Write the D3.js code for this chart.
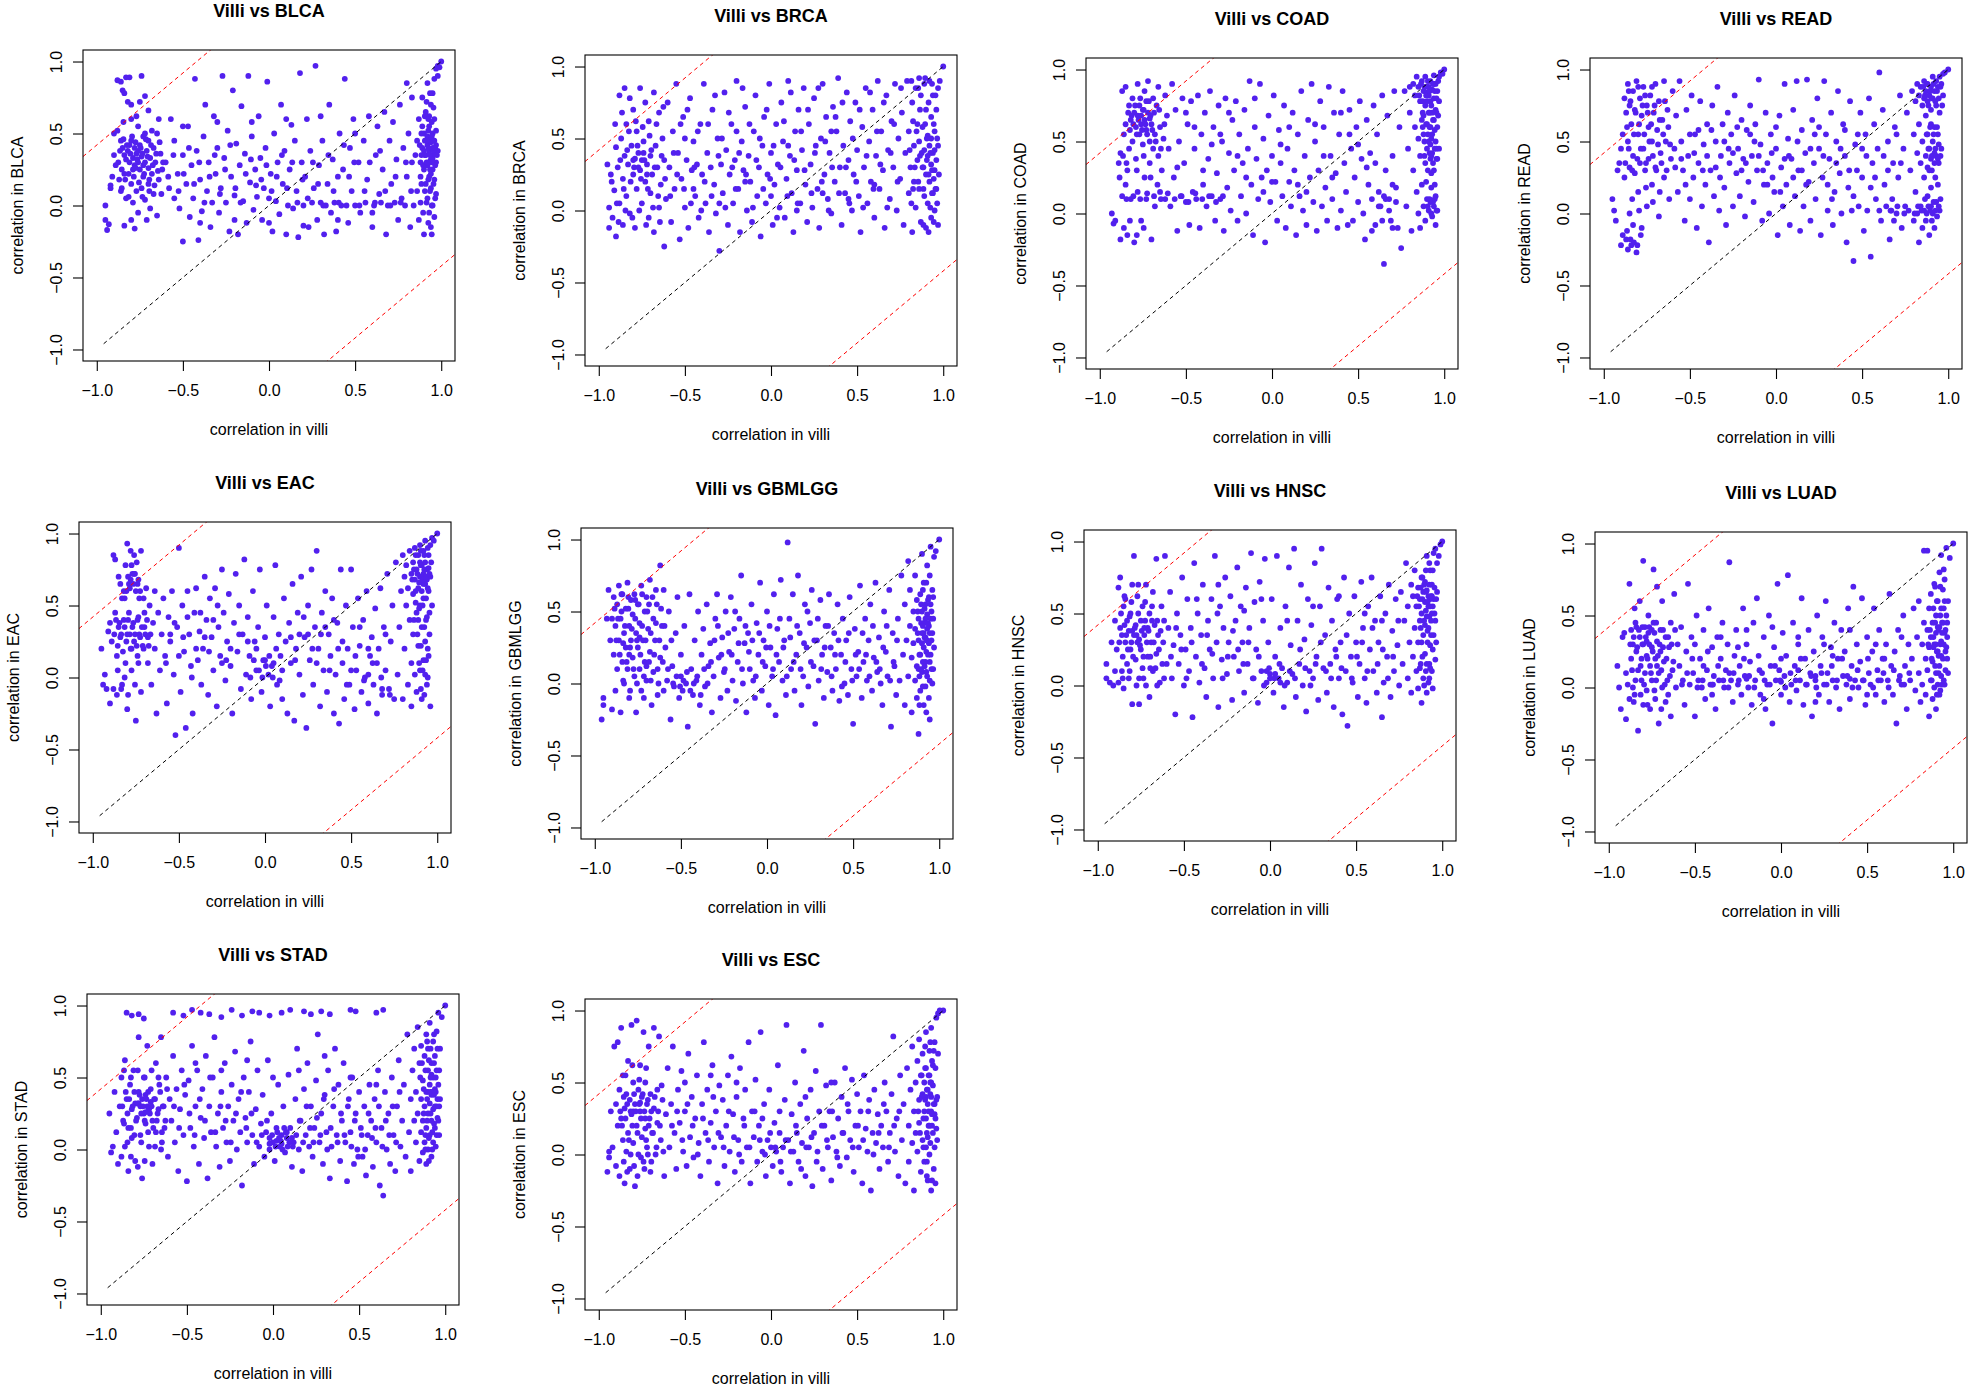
<!DOCTYPE html>
<html>
<head>
<meta charset="utf-8">
<title>Villi vs tumour correlation</title>
<script src="https://d3js.org/d3.v7.min.js"></script>
<style>
  body { margin: 0; background: #fff; }
  svg text { font-family: "Liberation Sans", Arial, Helvetica, sans-serif; fill: #000; }
  .panel-title { font-size: 18px; font-weight: bold; text-anchor: middle; }
  .axis-title { font-size: 16px; text-anchor: middle; }
  .axis text { font-size: 16px; }
  .axis line { stroke: #000; stroke-width: 1.1; }
  .frame { fill: none; stroke: #000; stroke-width: 1.1; }
  .dot { fill: #5220ee; }
</style>
</head>
<body>
<svg id="chart" width="1969" height="1388"></svg>
<script>
// tumour types, one panel each (row by row)
const tumourNames = ["BLCA", "BRCA", "COAD", "READ", "EAC", "GBMLGG", "HNSC", "LUAD", "STAD", "ESC"];
const tickValues = [-1, -0.5, 0, 0.5, 1];
const tickLabels = ["\u22121.0", "\u22120.5", "0.0", "0.5", "1.0"];
const diagStart = -0.96;       // y = x reference segment
const thresholdOffset = 1.42;  // red lines y = x +/- offset

// [correlation in villi, correlation in tumour]
const blcaPoints = [[-.95,0],[-.95,-.1],[-.94,-.17],[-.93,-.13],[-.92,.12],[-.91,.2],[-.9,.35],[-.9,.5],[-.92,.14],[-.89,.28],
[-.88,.87],[-.86,.86],[-.83,.89],[-.81,.89],[-.74,.9],[-.85,.8],[-.84,.78],[-.82,.72],[-.8,.7],[-.77,.62],[-.75,.72],[-.72,.76],[-.7,.66],
[-.88,.52],[-.86,.45],[-.85,.4],[-.84,.35],[-.83,.32],[-.82,.38],[-.81,.3],[-.8,.45],[-.79,.33],[-.78,.28],[-.78,.4],[-.77,.36],[-.76,.3],
[-.75,.42],[-.75,.25],[-.74,.34],[-.73,.48],[-.73,.2],[-.72,.3],[-.71,.38],[-.7,.26],[-.7,.45],[-.69,.33],[-.68,.22],[-.67,.4],[-.66,.3],
[-.65,.5],[-.64,.18],[-.63,.36],[-.62,.25],[-.87,.18],[-.86,.1],[-.84,.22],[-.83,.05],[-.8,.15],[-.79,.02],[-.77,.1],[-.76,-.05],[-.74,.12],
[-.72,.04],[-.7,.15],[-.69,-.02],[-.67,.08],[-.65,-.07],[-.84,-.14],[-.8,-.1],[-.78,-.16],[-.71,-.1],[-.81,.42],[-.76,.38],[-.79,.25],[-.73,.28],
[-.6,.3],[-.58,.12],[-.57,.6],[-.55,.45],[-.55,.05],[-.53,.22],[-.52,-.02],[-.5,.35],[-.5,-.25],[-.48,.15],[-.47,.55],[-.46,-.08],[-.45,.28],
[-.44,.05],[-.43,.88],[-.42,.38],[-.41,-.24],[-.4,.18],[-.39,-.04],[-.38,.48],[-.37,.7],[-.36,.1],[-.35,.3],[-.34,-.15],[-.33,.02],[-.32,.62],
[-.31,.22],[-.3,.4],[-.29,-.05],[-.28,.12],[-.27,.9],[-.26,.33],[-.25,.02],[-.24,.52],[-.23,-.18],[-.22,.2],[-.21,.8],[-.2,.07],[-.19,.43],
[-.18,-.2],[-.17,.28],[-.16,.69],[-.15,.03],[-.14,.36],[-.13,-.12],[-.12,.9],[-.11,.16],[-.1,.48],[-.09,-.03],[-.08,.25],[-.07,.06],[-.06,.62],
[-.05,.33],[-.04,-.1],[-.03,.12],[-.02,.4],[-.01,.86],[0,.05],[.01,.22],[.02,-.18],[.03,.5],[.04,.03],[.05,.3],[.06,-.06],[.07,.7],[.08,.15],
[.09,.38],[.1,-.2],[.11,0],[.12,.25],[.13,.56],[.14,-.02],[.15,.45],[.16,.1],[.17,-.22],[.18,.92],[.19,.3],[.2,0],[.21,.2],[.22,.6],[.23,-.15],
[.24,.38],[.25,.02],[.26,.12],[.27,.97],[.28,-.1],[.29,.28],[.3,.02],[.31,.45],[.32,-.2],[.33,0],[.34,.15],[.35,.7],[.36,-.05],[.37,.32],
[.38,.02],[.39,-.18],[.4,.2],[.41,.5],[.42,0],[.43,.25],[.44,.88],[.45,0],[.46,-.12],[.47,.4],[.48,.1],[.49,.6],[.5,0],
[.52,.3],[.53,-.05],[.55,.45],[.56,.02],[.57,.18],[.58,.62],[.6,-.15],[.61,0],[.62,.35],[.63,.55],[.64,.08],[.65,.02],[.66,.25],[.67,.65],
[.68,-.2],[.69,0],[.7,.45],[.71,.15],[.72,.58],[.73,.02],[.74,.32],[.75,-.1],[.76,.7],[.77,.05],[.78,.4],[.79,0],[.8,.2],[.8,.85],[.81,.5],
[.82,-.15],[.83,.3],[.83,.75],[.84,0],
[.85,.35],[.86,.1],[.86,.45],[.87,.6],[.87,-.1],[.88,.3],[.88,.02],[.89,.4],[.89,.75],[.9,.25],[.9,.5],[.9,-.2],[.91,.35],[.91,.15],[.91,.65],
[.92,.42],[.92,.28],[.92,.05],[.92,.85],[.93,.38],[.93,.2],[.93,.55],[.93,-.05],[.94,.44],[.94,.32],[.94,.12],[.94,.7],[.94,-.15],[.95,.4],
[.95,.25],[.95,.5],[.95,0],[.95,.78],[.96,.36],[.96,.45],[.96,.18],[.96,.6],[.96,.88],[.97,.3],[.97,.42],[.97,.08],[.97,.95],[.98,.38],[.98,.9],
[.98,.97],[.99,.96],[1,1],[.93,.62],[.92,.48],[.95,.33],[.97,.52],[.9,.38],[.89,.55],[.88,.2],[.96,-.08],[.94,.22]];
const blcaDense = [[-.875,.3],[-.865,.38],[-.855,.25],[-.845,.46],[-.835,.18],[-.825,.42],[-.815,.22],[-.805,.36],[-.795,.48],[-.785,.2],
[-.775,.44],[-.765,.32],[-.755,.16],[-.745,.4],[-.735,.36],[-.725,.22],[-.715,.46],[-.705,.34],[-.695,.18],[-.685,.42],[-.675,.28],[-.665,.14],
[-.655,.36],[-.645,.24],[-.635,.44],[-.625,.08],[-.615,.3],[-.855,.12],[-.815,.06],[-.775,.26],[-.735,.06],[-.695,.1],[-.845,.58],[-.8,.6],
[-.76,.55],[-.72,.5],[-.68,.52],[-.64,.6],
[-.585,.2],[-.555,.35],[-.525,.1],[-.495,.22],[-.465,.4],[-.435,.15],[-.405,.3],[-.375,.02],[-.345,.2],[-.315,.35],[-.285,.08],[-.255,.25],
[-.225,.42],[-.195,.12],[-.165,.02],[-.135,.22],[-.105,.32],[-.075,.14],[-.045,.18],[-.015,.28],[.015,.1],[.045,.2],[.075,.35],[.105,.12],
[.135,.3],[.165,.02],[.195,.18],[.225,.05],[.255,.3],[.285,.15],[.315,0],[.345,.35],[.375,.1],[.405,.02],[.435,.42],[.465,.2],[.495,.3],
[.525,0],[.555,.1],[.585,.3],[.615,.02],[.645,.38],[.675,.1],[.705,0],[.735,.2],[.765,.02],[.795,.3],[.825,.1],[-.5,.55],[-.3,.58],[-.1,.58],
[.1,.6],[.3,.62],[.5,.5],[-.4,-.12],[-.2,-.1],[0,-.12],[.2,-.14],[.4,-.1],[.6,-.05],
[.875,.42],[.885,.5],[.895,.28],[.905,.45],[.915,.3],[.925,.52],[.935,.35],[.945,.48],[.955,.38],[.965,.28],[.905,.62],[.915,.72],[.925,.6],
[.935,.78],[.945,.58],[.955,.68],[.905,.1],[.915,.02],[.925,.18],[.935,.1],[.945,0],[.955,.15],[.965,.05],[.885,.15],[.895,-.05],[.925,-.12],
[.945,-.2],[.905,.35],[.925,.4],[.935,.45],[.945,.3],[.955,.45],[.965,.4],[.975,.35],[.915,.45],[.925,.3],[.935,.25],[.885,.35]];

const brcaPoints = [[-.95,.32],[-.94,.02],[-.94,-.12],[-.93,.25],[-.92,-.05],[-.91,.14],[-.9,.44],[-.9,-.18],[-.89,.3],[-.88,.8],[-.88,.05],
[-.87,.5],[-.86,.22],[-.86,-.1],[-.85,.85],[-.85,.38],[-.84,.6],[-.84,.1],[-.83,.32],[-.82,.78],[-.82,-.02],[-.81,.45],[-.8,.25],[-.8,.7],
[-.79,.36],[-.79,-.12],[-.78,.15],[-.78,.55],[-.77,.4],[-.76,.28],[-.76,.85],[-.75,.05],[-.75,.35],[-.74,.48],[-.73,.2],[-.73,.75],[-.72,.32],
[-.71,-.05],[-.71,.62],[-.7,.38],[-.7,.12],[-.69,.25],[-.68,.82],[-.68,-.15],[-.67,.45],[-.66,.3],[-.65,.02],[-.65,.68],[-.64,.18],[-.63,.5],
[-.62,-.25],[-.62,.35],[-.61,.08],[-.6,.75],[-.77,.3],[-.74,.4],[-.72,.25],[-.8,.35],
[-.59,.3],[-.58,-.08],[-.57,.55],[-.56,.15],[-.55,.88],[-.54,.4],[-.53,-.2],[-.52,.22],[-.51,.65],[-.5,.02],[-.49,.35],[-.48,-.12],[-.47,.78],
[-.46,.28],[-.45,.48],[-.44,.1],[-.43,.32],[-.42,-.05],[-.41,.6],[-.4,.25],[-.39,.88],[-.38,.05],[-.37,.4],[-.36,-.15],[-.35,.3],[-.34,.7],
[-.33,.18],[-.32,-.02],[-.31,.5],[-.3,-.28],[-.29,.32],[-.28,.12],[-.27,.82],[-.26,.42],[-.25,-.1],[-.24,.25],[-.23,.6],[-.22,.05],[-.21,.35],
[-.2,.9],[-.19,.15],[-.18,-.15],[-.17,.48],[-.16,.28],[-.15,.72],[-.14,0],[-.13,.38],[-.12,.2],[-.11,-.08],[-.1,.55],[-.09,.8],[-.08,.1],
[-.07,.3],[-.06,-.18],[-.05,.45],[-.04,.65],[-.03,.05],[-.02,.25],[-.01,.88],[0,.4],[.01,-.1],[.02,.18],[.03,.6],[.04,.32],[.05,.02],[.06,.75],
[.07,.48],[.08,-.05],[.09,.22],[.1,.9],[.11,.38],[.12,.12],[.13,-.15],[.14,.55],[.15,.28],[.16,.7],[.17,.05],[.18,.42],[.19,.85],[.2,.18],
[.21,-.08],[.22,.6],[.23,.32],[.24,.02],[.25,.78],[.26,.45],[.27,.15],[.28,-.12],[.29,.5],[.3,.88],[.31,.25],[.32,.65],[.33,.08],[.34,.4],
[.35,-.02],[.36,.72],[.37,.2],[.38,.55],[.39,.92],[.4,.3],[.41,-.1],[.42,.45],[.43,.12],[.44,.82],[.45,.35],[.46,.62],[.47,0],[.48,.25],
[.49,.75],[.5,.42],[.51,.1],[.52,-.15],[.53,.58],[.54,.3],[.55,.85],[.56,.05],[.57,.48],[.58,.2],[.59,.7],[.6,-.05],[.61,.38],[.62,.9],
[.63,.15],[.64,.55],[.65,.28],[.66,-.12],[.67,.8],[.68,.42],[.69,.08],[.7,.62],[.71,.3],[.72,.88],[.73,0],[.74,.5],[.75,.22],
[-.45,.15],[-.3,.05],[-.15,.2],[0,.1],[.15,0],[.3,.12],[.45,.08],[.6,.18],[-.5,.5],[-.2,.55],[.1,.45],[.35,.55],
[.76,.68],[.77,-.1],[.78,.4],[.79,.9],[.8,.12],[.8,.55],[.81,.3],[.82,.75],[.82,-.15],[.83,.45],[.83,.2],[.84,.85],[.84,.02],[.85,.35],[.85,.6],
[.86,.15],[.86,.48],[.87,.8],[.87,-.08],[.88,.3],[.88,.58],[.89,.1],[.89,.42],[.9,.7],[.9,.25],[.9,-.12],[.91,.38],[.91,.52],[.91,.05],[.92,.9],
[.92,.2],[.92,.45],[.93,.65],[.93,.32],[.93,-.05],[.94,.12],[.94,.4],[.94,.8],[.95,.28],[.95,.55],[.95,0],[.96,.35],[.96,.7],[.96,.15],[.97,.85],
[.97,.45],[.97,-.1],[.98,.9],[1,1],[.89,.88],[.86,.92],[.93,.5],[.95,.42]];
const brcaDense = [[-.925,.2],[-.895,.05],[-.875,.35],[-.855,.15],[-.835,.42],[-.815,.2],[-.795,.3],[-.775,.45],[-.755,.22],[-.735,.35],
[-.715,.15],[-.695,.42],[-.675,.3],[-.655,.1],[-.635,.38],[-.615,.22],[-.905,.6],[-.865,.68],[-.825,.55],[-.785,.62],[-.745,.58],[-.705,.52],
[-.665,.6],[-.625,.72],[-.885,-.08],[-.845,0],[-.805,-.05],[-.765,0],[-.725,-.1],[-.685,.02],[-.645,-.08],
[-.585,.1],[-.565,.4],[-.545,.25],[-.525,.6],[-.505,.15],[-.485,.7],[-.465,.05],[-.445,.3],[-.425,.55],[-.405,0],[-.385,.2],[-.365,.6],
[-.345,.1],[-.325,.8],[-.305,.38],[-.285,.5],[-.265,.02],[-.245,.68],[-.225,.3],[-.205,.15],[-.185,.4],[-.165,.85],[-.145,.25],[-.125,.6],
[-.105,.02],[-.085,.35],[-.065,.5],[-.045,.15],[-.025,.7],[-.005,.22],[.015,.45],[.035,-.05],[.055,.3],[.075,.62],[.095,.1],[.115,.82],
[.135,.35],[.155,.05],[.175,.55],[.195,.28],[.215,.7],[.235,.12],[.255,.4],[.275,.85],[.295,.2],[.315,.48],[.335,0],[.355,.3],[.375,.65],
[.395,.12],[.415,.75],[.435,.3],[.455,.05],[.475,.5],[.495,.2],[.515,.7],[.535,.02],[.555,.38],[.575,.82],[.595,.15],[.615,.55],[.635,.32],
[.655,.75],[.675,.02],[.695,.4],[.715,.6],[.735,.2],[.755,.85],
[.805,.42],[.815,.05],[.825,.62],[.835,.3],[.845,.55],[.855,.2],[.865,.7],[.875,.4],[.885,.15],[.895,.6],[.905,.35],[.915,.75],[.925,.02],
[.935,.28],[.945,.6],[.955,.15],[.965,.5],[.975,.25],[.815,.9],[.855,.85],[.895,.92],[.935,.88],[.955,.8],[.825,.15],[.865,.38],[.905,.5],
[.925,.4],[.945,.22],[.965,.05],[.885,-.1],[.915,-.15],[.945,-.08],[.885,.3],[.915,.25],[.935,.12]];

const coadPoints = [[-.93,0],[-.92,-.07],[-.91,-.05],[-.89,.35],[-.88,.42],[-.88,-.18],[-.87,.85],[-.87,.12],[-.86,.55],[-.86,-.1],[-.85,.88],
[-.85,.62],[-.85,.2],[-.84,.3],[-.84,-.15],[-.83,.75],[-.83,.45],[-.82,.65],[-.82,.1],[-.81,.8],[-.81,.5],[-.8,.7],[-.8,-.2],[-.79,.6],[-.79,.38],
[-.78,.9],[-.78,.68],[-.78,.15],[-.77,.55],[-.77,.75],[-.76,.62],[-.76,-.05],[-.75,.72],[-.75,.48],[-.74,.65],[-.74,.85],[-.74,.25],[-.73,.58],
[-.73,.1],[-.72,.7],[-.72,.92],[-.71,.5],[-.71,.35],[-.7,.62],[-.7,-.18],[-.69,.8],[-.69,.45],[-.68,.55],[-.68,.05],[-.67,.75],[-.66,.4],
[-.66,.88],[-.65,.6],[-.65,.15],[-.64,.3],[-.63,.52],[-.62,.82],[-.62,.1],[-.61,.68],[-.6,.45],[-.76,.68],[-.73,.78],[-.71,.66],
[-.59,.05],[-.58,.9],[-.57,.25],[-.56,.72],[-.55,-.12],[-.54,.5],[-.53,.12],[-.52,.8],[-.51,.35],[-.5,.08],[-.49,.62],[-.48,-.08],[-.47,.78],
[-.46,.15],[-.45,.45],[-.44,.1],[-.43,.82],[-.42,-.1],[-.41,.55],[-.4,.2],[-.39,.7],[-.38,.05],[-.37,.38],[-.36,.85],[-.35,.12],[-.34,.6],
[-.33,-.05],[-.32,.28],[-.31,.75],[-.3,.1],[-.29,.5],[-.28,-.12],[-.27,.8],[-.26,.18],[-.25,.42],[-.24,.02],[-.23,.65],[-.22,.3],[-.21,.78],
[-.2,-.05],[-.19,.55],[-.18,.12],[-.17,.35],[-.16,.72],[-.15,0],[-.14,.45],[-.13,.92],[-.12,.2],[-.11,-.15],[-.1,.6],[-.09,.38],[-.08,.1],
[-.07,.9],[-.06,.25],[-.05,.52],[-.04,-.2],[-.03,.3],[-.02,.68],[-.01,.08],[0,.4],[.01,.82],[.02,.22],[.03,-.05],[.04,.58],[.05,.35],[.06,.12],
[.07,.75],[.08,-.1],[.09,.45],[.1,.22],[.11,.05],[.12,.7],[.13,.3],[.14,-.15],[.15,.55],[.16,.12],[.17,.85],[.18,.02],[.19,.4],[.2,-.08],
[.21,.65],[.22,.25],[.23,.9],[.24,.08],[.25,.5],[.26,-.12],[.27,.3],[.28,.78],[.29,.05],[.3,.6],[.31,.18],[.32,-.05],[.33,.88],[.34,.4],
[.35,.1],[.36,.7],[.37,.28],[.38,-.1],[.39,.55],[.4,.02],[.41,.85],[.42,.35],[.43,.15],[.44,-.08],[.45,.72],[.46,.45],[.47,-.05],[.48,.25],
[.49,.6],[.5,.08],[.51,.78],[.52,.38],[.53,0],[.54,-.18],[.55,.65],[.56,.2],[.57,.42],[.58,.1],[.59,.75],[.6,-.08],[.61,.55],[.62,.15],
[.63,.05],[.64,.82],[.65,-.35],[.66,.3],[.67,.68],[.68,.1],[.69,-.05],[.7,.4],[.71,.85],[.72,.18],[.73,-.1],[.74,.6],[.75,-.24],
[.77,.85],[.78,.05],[.79,.45],[.8,.88],[.8,.7],[.81,-.12],[.82,.9],[.82,.3],[.83,.82],[.83,.6],[.84,.15],[.84,.95],[.85,.88],[.85,.52],[.85,0],
[.86,.78],[.86,.4],[.86,-.1],[.87,.92],[.87,.65],[.87,.2],[.88,.85],[.88,.55],[.88,.05],[.89,.95],[.89,.75],[.89,.35],[.89,-.05],[.9,.88],
[.9,.62],[.9,.45],[.9,.1],[.91,.82],[.91,.7],[.91,.5],[.91,.02],[.92,.92],[.92,.78],[.92,.6],[.92,.38],[.92,.08],[.93,.86],[.93,.55],[.93,.42],
[.93,-.02],[.94,.96],[.94,.8],[.94,.65],[.94,.3],[.94,.05],[.95,.9],[.95,.72],[.95,.5],[.95,.12],[.95,-.08],[.96,.85],[.96,.6],[.96,.02],
[.97,.95],[.97,.78],[.97,.45],[.98,.98],[.99,.97],[1,1],[.93,.7],[.9,.78],[.92,.48],[.96,.38],[.88,.68],[.91,.88],[.94,.9],[.9,.84]];
const coadDense = [[-.835,.7],[-.825,.58],[-.815,.68],[-.805,.62],[-.795,.75],[-.785,.55],[-.775,.65],[-.765,.8],[-.755,.58],[-.745,.72],
[-.735,.62],[-.725,.55],[-.715,.78],[-.705,.68],[-.695,.58],[-.685,.7],[-.675,.5],[-.655,.72],[-.645,.45],[-.625,.62],[-.865,.4],[-.845,.1],
[-.805,.12],[-.765,.1],[-.725,.14],[-.685,.12],[-.645,.1],[-.605,.14],[-.565,.1],[-.525,.12],[-.485,.08],[-.445,.14],[-.405,.1],[-.365,.12],
[-.325,.08],[-.285,.12],[-.845,.35],[-.785,.3],[-.745,.4],[-.705,.25],[-.665,.2],[-.885,.25],[-.825,-.05],[-.785,-.15],[-.745,-.1],
[-.55,.32],[-.45,.6],[-.35,.48],[-.25,.7],[-.15,.25],[-.05,.15],[.05,.48],[.15,.2],[.25,.62],[.35,.25],[.45,.55],[.55,.32],[.65,.12],[.7,.2],
[.6,.35],[.5,.48],[.4,.7],[.3,.4],[.2,.15],[.1,.6],[0,.22],[-.1,.8],[-.2,.4],[-.3,.55],[-.4,.3],[-.5,.7],[.62,.05],[.66,.1],[.68,.02],[.72,.08],
[.7,-.1],[.58,-.12],[.64,-.05],
[.855,.82],[.865,.9],[.875,.78],[.885,.88],[.895,.82],[.905,.92],[.915,.85],[.925,.75],[.935,.9],[.945,.85],[.955,.8],[.965,.92],[.875,.6],
[.885,.5],[.895,.62],[.905,.55],[.915,.6],[.925,.52],[.935,.65],[.945,.58],[.955,.45],[.965,.68],[.885,.4],[.905,.3],[.915,.42],[.925,.28],
[.935,.35],[.945,.45],[.955,.38],[.905,.05],[.915,.1],[.925,0],[.935,.08],[.945,.1],[.955,.02],[.895,.22],[.925,.18],[.945,.2],[.875,.7],
[.915,.7],[.955,.7],[.925,.4]];

const readPoints = [[-.95,.1],[-.94,.02],[-.93,-.05],[-.92,.3],[-.91,.35],[-.9,.45],[-.9,-.22],[-.89,.55],[-.89,-.15],[-.88,.8],[-.88,.25],
[-.87,.7],[-.87,-.18],[-.86,.9],[-.86,.5],[-.86,-.25],[-.85,.75],[-.85,.32],[-.85,0],[-.84,.62],[-.84,-.22],[-.83,.85],[-.83,.4],[-.83,-.08],
[-.82,.72],[-.82,.28],[-.81,.92],[-.81,-.27],[-.8,.55],[-.8,.15],[-.79,.8],[-.79,.35],[-.78,.68],[-.78,-.1],[-.77,.88],[-.77,.45],[-.76,.3],
[-.75,.75],[-.75,.05],[-.74,.6],[-.74,.38],[-.73,.82],[-.72,.5],[-.72,.2],[-.71,.7],[-.7,.9],[-.7,.32],[-.69,.58],[-.68,.78],[-.68,-.02],
[-.67,.42],[-.66,.65],[-.65,.92],[-.65,.25],[-.64,.5],[-.63,.72],[-.62,.1],[-.61,.38],[-.6,.85],
[-.59,.45],[-.58,.68],[-.57,.15],[-.56,.92],[-.55,.5],[-.54,.3],[-.53,-.05],[-.52,.72],[-.51,.4],[-.5,.1],[-.49,.82],[-.48,.25],[-.47,.55],
[-.46,-.1],[-.45,.35],[-.44,.78],[-.43,.05],[-.42,.48],[-.41,.2],[-.4,.62],[-.39,-.2],[-.38,.3],[-.37,.75],[-.36,.12],[-.35,.5],[-.34,.88],
[-.33,.02],[-.32,.4],[-.31,.62],[-.3,.18],[-.29,-.08],[-.28,.7],[-.27,.35],[-.26,.55],[-.25,.05],[-.24,.82],[-.23,.28],[-.22,.45],[-.21,.12],
[-.2,.65],[-.19,.38],[-.18,-.02],[-.17,.58],[-.16,.22],[-.15,.75],[-.14,.4],[-.13,.08],[-.12,.62],[-.11,.3],[-.1,.93],[-.09,.48],[-.08,-.05],
[-.07,.2],[-.06,.7],[-.05,.35],[-.04,0],[-.03,.55],[-.02,.25],[-.01,.15],[0,.45],[.01,-.15],[.02,.68],[.03,.32],[.04,.05],[.05,.9],[.06,.2],
[.07,.52],[.08,-.08],[.09,.38],[.1,.72],[.11,.12],[.12,.92],[.13,.3],[.14,-.12],[.15,.58],[.16,.05],[.17,.42],[.18,.93],[.19,.22],[.2,-.05],
[.21,.65],[.22,.35],[.23,.1],[.24,.8],[.25,.45],[.26,-.15],[.27,.25],[.28,.92],[.29,.55],[.3,.02],[.31,.38],[.32,.7],[.33,-.08],[.34,.15],
[.35,.5],[.36,.85],[.37,.28],[.38,0],[.39,.62],[.4,.4],[.41,-.2],[.42,.18],[.43,.78],[.44,.02],[.45,-.33],[.46,.48],[.47,.3],[.48,.05],
[.49,.7],[.5,.25],[.51,-.12],[.52,.55],[.53,.02],[.54,.8],[.55,-.3],[.56,.35],[.57,.62],[.58,.1],[.59,.45],[.6,.98],[.61,-.05],[.62,.72],
[.63,.2],[.64,.05],[.65,.5],[.66,-.18],[.67,.02],[.68,.35],[.69,.6],[.7,0],[.71,.25],[.72,.82],[.73,-.1],[.74,.45],[.75,.05],
[.76,.7],[.77,.02],[.78,.3],[.79,.85],[.8,-.05],[.8,.55],[.81,.78],[.81,.15],[.82,.9],[.82,.42],[.82,0],[.83,.82],[.83,.62],[.83,-.2],[.84,.88],
[.84,.35],[.84,.05],[.85,.75],[.85,.5],[.85,-.1],[.86,.92],[.86,.8],[.86,.25],[.86,.02],[.87,.85],[.87,.68],[.87,.4],[.87,-.05],[.88,.9],
[.88,.78],[.88,.55],[.88,.12],[.89,.82],[.89,.45],[.89,.3],[.89,-.15],[.9,.88],[.9,.72],[.9,.38],[.9,.05],[.91,.95],[.91,.8],[.91,.5],[.91,0],
[.92,.85],[.92,.6],[.92,.35],[.92,-.1],[.93,.92],[.93,.75],[.93,.4],[.93,.08],[.94,.88],[.94,.55],[.94,.2],[.95,.95],[.95,.7],[.95,.02],[.96,.9],
[.96,.45],[.97,.97],[.97,.82],[.98,.98],[1,1],[.9,.62],[.88,.32],[.92,.42],[.94,.38],[.9,.18]];
const readDense = [[-.875,.35],[-.865,.6],[-.855,.45],[-.845,.78],[-.835,.3],[-.825,.55],[-.815,.7],[-.805,.38],[-.795,.62],[-.785,.45],
[-.775,.75],[-.765,.55],[-.755,.35],[-.745,.7],[-.735,.5],[-.725,.62],[-.715,.4],[-.705,.75],[-.695,.3],[-.685,.48],[-.675,.65],[-.665,.35],
[-.655,.55],[-.645,.78],[-.635,.3],[-.625,.6],[-.615,.48],[-.865,-.12],[-.845,-.18],[-.825,-.2],[-.805,-.22],[-.785,-.15],[-.835,.1],
[-.795,.02],[-.755,.18],[-.715,.08],[-.675,.15],[-.855,.85],[-.8,.88],[-.76,.82],[-.72,.88],
[-.55,.38],[-.45,.58],[-.35,.32],[-.25,.42],[-.15,.55],[-.05,.2],[.05,.38],[.15,.3],[.25,.6],[.35,.35],[.45,.12],[.55,.18],[.65,.3],[.7,.55],
[.6,.02],[.5,.45],[.4,.58],[.3,.2],[.2,.45],[.1,.25],[0,.6],[-.1,.4],[-.2,.3],[-.3,.5],[-.4,.4],[-.5,.55],[-.585,.32],[-.525,.2],[-.475,.42],
[-.425,.3],[-.375,.58],[-.325,.25],[-.275,.45],[-.225,.6],[-.175,.35],[-.125,.5],[-.075,.3],[-.025,.42],[.025,.15],[.075,.4],[.125,.5],
[.175,.2],[.225,.55],[.275,.4],[.325,.1],[.375,.45],[.425,.3],[.475,.55],[.525,.4],[.575,.25],[.625,.4],[.675,.1],[.725,.35],[.665,.02],
[.705,.05],[.745,0],[.685,-.05],
[.855,.88],[.865,.82],[.875,.9],[.885,.75],[.895,.85],[.905,.8],[.915,.9],[.925,.78],[.935,.85],[.945,.8],[.955,.88],[.965,.75],[.875,.55],
[.885,.45],[.895,.6],[.905,.4],[.915,.55],[.925,.45],[.935,.6],[.945,.48],[.955,.4],[.905,.3],[.925,.25],[.945,.35],[.875,0],[.885,.05],
[.895,.02],[.905,-.05],[.915,.08],[.925,.02],[.935,-.02],[.945,.05],[.955,.1],[.865,.1],[.845,.02],[.825,.05],[.805,0]];

const eacPoints = [[-.95,.2],[-.94,-.05],[-.93,.02],[-.92,-.08],[-.91,.32],[-.9,.38],[-.9,-.18],[-.89,.25],[-.88,.85],[-.88,-.08],[-.87,.82],
[-.87,.45],[-.86,.15],[-.86,-.12],[-.85,.35],[-.85,.7],[-.84,.65],[-.84,.28],[-.83,.55],[-.83,-.05],[-.82,.6],[-.82,.4],[-.81,.78],[-.81,.1],
[-.8,.93],[-.8,.3],[-.8,-.22],[-.79,.65],[-.79,.45],[-.78,.88],[-.78,.2],[-.77,.72],[-.77,.35],[-.76,.25],[-.76,.85],[-.75,.6],[-.75,-.3],
[-.74,.4],[-.74,.15],[-.73,.3],[-.73,.55],[-.72,.88],[-.72,-.1],[-.71,.22],[-.7,.45],[-.7,.35],[-.69,.62],[-.68,.1],[-.68,.28],[-.67,.5],
[-.66,-.05],[-.65,.38],[-.64,.6],[-.64,.2],[-.63,-.25],[-.62,.45],[-.61,.05],[-.6,.3],[-.78,.68],[-.76,.72],[-.74,.65],
[-.59,.55],[-.58,.15],[-.57,-.18],[-.56,.42],[-.55,.25],[-.54,.6],[-.53,.02],[-.52,-.4],[-.51,.35],[-.5,.9],[-.49,-.1],[-.48,.5],[-.47,.18],
[-.46,-.35],[-.45,.6],[-.44,.3],[-.43,.08],[-.42,-.25],[-.41,.45],[-.4,.62],[-.39,.12],[-.38,.32],[-.37,-.05],[-.36,.2],[-.35,.7],[-.34,.4],
[-.33,-.12],[-.32,.55],[-.31,.28],[-.3,.05],[-.29,.62],[-.28,-.2],[-.27,.35],[-.26,.15],[-.25,.75],[-.24,.45],[-.23,-.02],[-.22,.25],[-.21,.58],
[-.2,.08],[-.19,-.25],[-.18,.38],[-.17,.72],[-.16,.18],[-.15,.5],[-.14,-.08],[-.13,.3],[-.12,.82],[-.11,.02],[-.1,.42],[-.09,.15],[-.08,-.15],
[-.07,.6],[-.06,.25],[-.05,.05],[-.04,.35],[-.03,.75],[-.02,-.1],[-.01,.12],[0,.28],[.01,.5],[.02,.02],[.03,-.2],[.04,.08],[.05,.42],[.06,.78],
[.07,-.05],[.08,.3],[.09,.15],[.1,-.15],[.11,.55],[.12,.25],[.13,-.25],[.14,.38],[.15,.1],[.16,.65],[.17,-.3],[.18,.2],[.19,.45],[.2,.02],
[.21,.7],[.22,-.12],[.23,.28],[.24,-.35],[.25,.5],[.26,.12],[.27,.75],[.28,-.05],[.29,.35],[.3,.88],[.31,.2],[.32,-.2],[.33,.45],[.34,.05],
[.35,.6],[.36,-.1],[.37,.3],[.38,.15],[.39,.55],[.4,-.25],[.41,.02],[.42,.38],[.43,-.32],[.44,.75],[.45,.1],[.46,-.15],[.47,.5],[.48,.2],
[.49,-.05],[.5,.75],[.51,.35],[.52,-.22],[.53,.05],[.54,.55],[.55,.22],[.56,-.1],[.57,.4],[.58,0],[.59,.6],[.6,-.18],[.61,.15],[.62,.28],
[.63,-.05],[.64,.48],[.65,-.25],[.66,.2],[.67,.62],[.68,-.12],[.69,.35],[.7,.05],[.71,.72],[.72,-.08],[.73,.25],[.74,.5],[.75,-.15],
[.76,.8],[.77,.02],[.78,.35],[.79,.6],[.8,.85],[.8,-.15],[.81,.7],[.81,.2],[.82,.78],[.82,.5],[.83,.62],[.83,-.05],[.84,.88],[.84,.4],[.85,.72],
[.85,.1],[.85,-.2],[.86,.8],[.86,.58],[.86,.3],[.87,.9],[.87,.68],[.87,.02],[.88,.75],[.88,.45],[.88,-.1],[.89,.85],[.89,.62],[.89,.22],[.9,.92],
[.9,.7],[.9,.5],[.9,.05],[.91,.78],[.91,.6],[.91,.35],[.91,-.15],[.92,.88],[.92,.72],[.92,.55],[.92,.12],[.93,.95],[.93,.8],[.93,.65],[.93,.25],
[.94,.75],[.94,.42],[.94,-.05],[.95,.85],[.95,.6],[.95,.15],[.96,.92],[.96,.7],[.96,-.2],[.97,.97],[.97,.5],[.98,.95],[1,1],[.9,.8],[.92,.65],
[.94,.68],[.89,.4],[.93,.02],[.91,.7],[.95,.76]];
const eacDense = [[-.875,.3],[-.865,.4],[-.855,.22],[-.845,.38],[-.835,.3],[-.825,.18],[-.815,.35],[-.805,.25],[-.795,.4],[-.785,.3],
[-.775,.2],[-.765,.38],[-.755,.3],[-.745,.22],[-.735,.42],[-.725,.28],[-.715,.35],[-.705,.2],[-.695,.3],[-.685,.4],[-.675,.22],[-.665,.3],
[-.795,.7],[-.785,.62],[-.775,.78],[-.765,.65],[-.755,.72],[-.745,.8],[-.735,.68],[-.805,.6],[-.815,.55],[-.725,.6],[-.705,.55],[-.855,.05],
[-.835,-.08],[-.815,0],[-.795,-.12],[-.775,.05],[-.755,-.05],[-.735,.1],
[-.55,.3],[-.45,.42],[-.35,.28],[-.25,.1],[-.15,.3],[-.05,.2],[.05,.1],[.15,.28],[.25,.3],[.35,.35],[.45,.25],[.55,.35],[.65,.1],[.7,.3],
[.6,.2],[.5,.05],[.4,.4],[.3,.1],[.2,.3],[.1,.05],[0,.12],[-.1,.25],[-.2,.2],[-.3,.4],[-.4,.2],[-.5,.15],[-.035,.05],[-.015,0],[.005,.08],
[.025,.15],[.045,0],[-.065,.12],[-.085,0],[.065,.2],[.085,-.02],[-.575,.1],[-.525,.38],[-.475,.28],[-.425,0],[-.375,.45],[-.325,.18],
[-.275,.5],[-.225,.12],[.175,.12],[.225,.42],[.275,.2],[.325,.3],[.375,.05],[.425,.2],[.475,-.05],[.525,.15],[.575,-.02],[.625,.1],[.675,0],
[.725,-.12],[.6,.02],[.68,-.08],
[.855,.68],[.865,.75],[.875,.6],[.885,.72],[.895,.66],[.905,.78],[.915,.68],[.925,.75],[.935,.7],[.945,.62],[.955,.72],[.965,.8],[.875,.52],
[.895,.48],[.915,.5],[.935,.55],[.955,.45],[.885,.3],[.905,.22],[.925,.35],[.945,.2],[.895,.1],[.915,.05],[.935,.12],[.945,0],[.905,-.08],
[.925,-.12],[.875,.85],[.905,.88],[.925,.85],[.945,.9],[.865,.4],[.935,.4],[.955,.3]];

const gbmlggPoints = [[-.96,-.25],[-.95,-.15],[-.95,-.1],[-.93,.45],[-.92,.65],[-.91,.3],[-.9,.45],[-.9,-.18],[-.89,.6],[-.89,.2],[-.88,.4],
[-.88,-.05],[-.87,.55],[-.87,.1],[-.86,.68],[-.86,.3],[-.85,.45],[-.85,-.2],[-.84,.62],[-.84,.15],[-.83,.35],[-.83,0],[-.82,.52],[-.82,.25],
[-.81,.7],[-.81,.1],[-.8,.4],[-.8,-.1],[-.79,.58],[-.79,.3],[-.78,.18],[-.78,.48],[-.77,.05],[-.77,.62],[-.76,.35],[-.76,-.2],[-.75,.25],
[-.75,.55],[-.74,.1],[-.74,.42],[-.73,.68],[-.73,-.05],[-.72,.3],[-.71,.5],[-.71,.15],[-.7,.6],[-.7,.02],[-.69,.38],[-.68,.22],[-.68,.72],
[-.67,-.15],[-.66,.45],[-.66,.08],[-.65,.3],[-.64,.55],[-.63,0],[-.62,.82],[-.62,.18],[-.61,.4],[-.6,-.05],[-.6,.65],[-.59,.25],[-.58,.02],
[-.57,.5],[-.56,-.25],[-.55,.12],[-.8,.2],[-.74,.32],[-.7,.12],
[-.54,-.02],[-.53,.35],[-.52,.6],[-.51,-.1],[-.5,.05],[-.5,.2],[-.49,-.05],[-.48,.4],[-.47,0],[-.46,-.3],[-.45,.62],[-.44,.1],[-.43,-.08],
[-.42,.3],[-.41,.02],[-.4,.5],[-.39,-.15],[-.38,.2],[-.37,.38],[-.36,-.02],[-.35,.55],[-.34,.12],[-.33,.28],[-.32,-.2],[-.31,.05],[-.3,.45],
[-.29,.62],[-.28,.18],[-.27,-.1],[-.26,.32],[-.25,.08],[-.24,.5],[-.23,-.05],[-.22,.22],[-.21,.6],[-.2,.02],[-.19,.38],[-.18,-.12],[-.17,.15],
[-.16,.45],[-.15,.75],[-.14,0],[-.13,.28],[-.12,-.2],[-.11,.35],[-.1,.1],[-.09,.55],[-.08,.02],[-.07,-.1],[-.06,.42],[-.05,.2],[-.04,.7],
[-.03,-.05],[-.02,.3],[-.01,.12],[0,.5],[.01,-.15],[.02,.25],[.03,.05],[.04,.62],[.05,-.22],[.06,.38],[.07,.15],[.08,.72],[.09,.02],[.1,.3],
[.11,-.08],[.12,.98],[.13,.45],[.14,.1],[.15,.62],[.16,-.05],[.17,.2],[.18,.75],[.19,.35],[.2,-.15],[.21,.05],[.22,.55],[.23,.25],[.24,-.02],
[.25,.42],[.26,.65],[.27,.12],[.28,-.28],[.29,.3],[.3,.02],[.31,.58],[.32,.2],[.33,-.1],[.34,.4],[.35,.08],[.36,.62],[.37,.25],[.38,-.05],
[.39,.35],[.4,.1],[.41,.55],[.42,-.12],[.43,.2],[.44,.45],[.45,0],[.46,.3],[.47,-.08],[.48,.6],[.49,.1],[.5,-.28],[.51,.38],[.52,.05],
[.53,.22],[.54,.68],[.55,-.1],[.56,.15],[.57,.45],[.58,.02],[.59,.3],[.6,.55],[.61,-.05],[.62,.18],[.63,.7],[.64,.08],[.65,.32],[.66,0],
[.67,-.15],[.68,.5],[.69,.22],[.7,.05],[.71,.65],[.72,-.3],[.73,.35],[.74,.12],[.75,-.08],
[.76,.45],[.77,.02],[.78,.75],[.79,.2],[.8,-.15],[.8,.55],[.81,.3],[.82,.85],[.82,.05],[.83,.4],[.83,.65],[.84,.18],[.84,-.2],[.85,.5],[.85,.28],
[.86,.02],[.86,.75],[.86,.38],[.87,.58],[.87,.12],[.87,-.1],[.88,.45],[.88,.3],[.88,-.35],[.89,.62],[.89,.2],[.89,-.05],[.9,.5],[.9,.35],[.9,.08],
[.9,.9],[.91,.42],[.91,.25],[.91,-.15],[.91,.7],[.92,.55],[.92,.32],[.92,.15],[.92,-.02],[.93,.48],[.93,.38],[.93,.05],[.93,.82],[.94,.6],
[.94,.28],[.94,-.1],[.95,.45],[.95,.2],[.95,.95],[.96,.35],[.96,.65],[.96,0],[.97,.88],[.97,.25],[.98,.92],[1,1],[.9,.28],[.92,.45],[.94,.4],
[.88,.1],[.95,.55],[.93,.3],[.91,.35]];
const gbmlggDense = [[-.875,.3],[-.865,.45],[-.855,.2],[-.845,.5],[-.835,.28],[-.825,.4],[-.815,.15],[-.805,.52],[-.795,.25],[-.785,.38],
[-.775,.1],[-.765,.45],[-.755,.3],[-.745,.55],[-.735,.2],[-.725,.4],[-.715,.05],[-.705,.3],[-.695,.5],[-.685,.15],[-.675,.35],[-.665,.6],
[-.655,.2],[-.645,.42],[-.635,.1],[-.625,.3],[-.615,.52],[-.605,.15],[-.595,.4],[-.575,.1],[-.555,.3],[-.885,.52],[-.845,.62],[-.805,.6],
[-.765,.58],[-.725,.62],[-.685,.55],[-.645,.65],[-.835,.02],[-.795,-.05],[-.755,0],[-.715,-.1],[-.675,.02],[-.635,-.08],
[-.545,0],[-.525,.05],[-.505,-.02],[-.485,.02],[-.465,.08],[-.445,-.05],[-.425,0],[-.405,.05],[-.385,-.08],[-.365,.1],[-.345,0],[-.325,.15],
[-.305,.3],[-.285,.4],[-.265,.2],[-.245,.1],[-.225,.35],[-.205,.2],[-.185,.5],[-.165,.28],[-.145,.1],[-.125,.4],[-.105,.22],[-.085,.3],
[-.065,.05],[-.045,.35],[-.025,.15],[-.005,.25],[.015,.4],[.035,.1],[.055,.2],[.075,.45],[.095,.25],[.115,.05],[.135,.32],[.155,.15],
[.175,.4],[.195,.1],[.215,.28],[.235,.5],[.255,.15],[.275,.3],[.295,.45],[.315,.1],[.335,.25],[.355,.4],[.375,.05],[.395,.2],[.415,.3],
[.435,-.02],[.455,.15],[.475,.35],[.495,.02],[.515,.2],[.535,.1],[.555,.35],[.575,.2],[.595,.05],[.615,.4],[.635,.15],[.655,.1],[.675,.25],
[.695,.4],[.715,.02],[.735,.15],[.755,.3],
[.875,.35],[.885,.2],[.895,.42],[.905,.15],[.915,.32],[.925,.22],[.935,.42],[.945,.15],[.955,.3],[.965,.45],[.875,.5],[.895,.55],[.915,.52],
[.935,.58],[.955,.5],[.885,.05],[.905,-.02],[.925,.08],[.945,.02],[.965,.1],[.895,.1],[.915,.12],[.935,.2],[.955,.1],[.905,.65],[.925,.7],
[.945,.75],[.965,.6],[.885,-.15],[.925,-.2],[.945,-.25],[.905,.4],[.925,.3],[.945,.35]];

const hnscPoints = [[-.95,.15],[-.95,.05],[-.93,.02],[-.92,.3],[-.91,0],[-.9,.45],[-.9,.1],[-.89,.25],[-.88,.68],[-.88,.02],[-.87,.4],[-.87,.75],
[-.86,.35],[-.86,.1],[-.85,.55],[-.85,-.02],[-.84,.3],[-.84,.6],[-.83,.45],[-.83,.15],[-.82,.38],[-.82,.05],[-.81,.5],[-.81,.25],[-.8,.7],
[-.8,-.13],[-.79,.35],[-.79,.9],[-.78,.42],[-.78,.18],[-.77,.3],[-.77,.62],[-.76,.05],[-.76,-.13],[-.75,.45],[-.75,.25],[-.74,.55],[-.74,.12],
[-.73,.35],[-.72,.7],[-.72,0],[-.71,.4],[-.71,.2],[-.7,.5],[-.7,-.08],[-.69,.3],[-.68,.65],[-.68,.1],[-.67,.42],[-.66,.88],[-.66,.22],
[-.65,.35],[-.64,.02],[-.63,.55],[-.62,.3],[-.61,.9],[-.6,.15],[-.8,.38],[-.76,.32],[-.73,.4],
[-.59,.4],[-.58,.65],[-.57,.05],[-.56,.28],[-.55,-.2],[-.54,.5],[-.53,.15],[-.52,.35],[-.51,.75],[-.5,0],[-.49,.25],[-.48,.6],[-.47,.1],
[-.46,.4],[-.45,-.22],[-.44,.85],[-.43,.2],[-.42,.5],[-.41,.02],[-.4,.35],[-.39,.7],[-.38,.12],[-.37,-.08],[-.36,.45],[-.35,.25],[-.34,.6],
[-.33,.05],[-.32,.9],[-.31,.3],[-.3,-.15],[-.29,.55],[-.28,.18],[-.27,.4],[-.26,.75],[-.25,.08],[-.24,.3],[-.23,.62],[-.22,-.1],[-.21,.2],
[-.2,.45],[-.19,.82],[-.18,.1],[-.17,.55],[-.16,.3],[-.15,-.05],[-.14,.68],[-.13,.15],[-.12,.4],[-.11,.92],[-.1,.05],[-.09,.58],[-.08,.25],
[-.07,-.12],[-.06,.72],[-.05,.1],[-.04,.45],[-.03,.88],[-.02,.02],[-.01,.3],[0,.08],[.01,.6],[.02,-.05],[.03,.2],[.04,.9],[.05,.05],[.06,.4],
[.07,.12],[.08,-.15],[.09,.55],[.1,.02],[.11,.82],[.12,.28],[.13,.08],[.14,.95],[.15,-.08],[.16,.45],[.17,.15],[.18,.7],[.19,0],[.2,.32],
[.21,-.18],[.22,.6],[.23,.1],[.24,.42],[.25,.05],[.26,.85],[.27,.2],[.28,-.1],[.29,.55],[.3,.95],[.31,.12],[.32,.35],[.33,-.05],[.34,.68],
[.35,.15],[.36,.45],[.37,-.15],[.38,.25],[.39,.6],[.4,.05],[.41,.3],[.42,-.2],[.43,.75],[.44,.1],[.45,-.28],[.46,.5],[.47,.2],[.48,.02],
[.49,.62],[.5,.3],[.51,-.08],[.52,.15],[.53,.72],[.54,.4],[.55,.05],[.56,-.12],[.57,.55],[.58,.25],[.59,.75],[.6,.1],[.61,.45],[.62,-.05],
[.63,.3],[.64,.62],[.65,-.22],[.66,.02],[.67,.5],[.68,.2],[.69,.7],[.7,-.08],[.71,.38],[.72,.1],[.73,.6],[.74,.28],[.75,0],
[.76,.65],[.77,.15],[.78,.45],[.79,.85],[.8,.05],[.8,.55],[.81,.3],[.82,.7],[.82,-.05],[.83,.62],[.83,.2],[.84,.4],[.84,.8],[.85,.55],[.85,.1],
[.86,.68],[.86,.3],[.86,-.02],[.87,.6],[.87,.45],[.87,.12],[.88,.75],[.88,.5],[.88,-.12],[.89,.65],[.89,.35],[.89,.05],[.9,.58],[.9,.72],[.9,.22],
[.91,.9],[.91,.48],[.91,.15],[.91,-.05],[.92,.62],[.92,.4],[.92,.02],[.93,.8],[.93,.55],[.93,.28],[.94,.7],[.94,.5],[.94,.1],[.95,.92],[.95,.6],
[.95,.35],[.96,.95],[.96,.45],[.96,.18],[.97,.85],[.97,.65],[.98,.9],[.99,.98],[1,1],[.9,.42],[.92,.55],[.94,.62],[.93,.12],[.88,.3],[.91,.66],
[.93,.6]];
const hnscDense = [[-.875,.3],[-.865,.5],[-.855,.2],[-.845,.42],[-.835,.35],[-.825,.25],[-.815,.48],[-.805,.3],[-.795,.2],[-.785,.4],
[-.775,.35],[-.765,.5],[-.755,.28],[-.745,.38],[-.735,.2],[-.725,.45],[-.715,.3],[-.705,.38],[-.695,.2],[-.685,.45],[-.675,.3],[-.665,.12],
[-.655,.45],[-.645,.25],[-.635,.38],[-.625,.15],[-.615,.45],[-.855,.05],[-.815,.1],[-.775,0],[-.735,.05],[-.695,.12],[-.655,0],[-.615,.05],
[-.845,.62],[-.805,.58],[-.765,.7],[-.725,.58],[-.685,.55],
[-.575,.2],[-.545,.4],[-.515,.25],[-.485,.05],[-.455,.3],[-.425,.6],[-.395,.15],[-.365,.35],[-.335,.22],[-.305,.5],[-.275,.05],[-.245,.2],
[-.215,.38],[-.185,.25],[-.155,.15],[-.125,.3],[-.095,.05],[-.065,.2],[-.035,0],[-.005,.12],[.025,.05],[.055,.15],[.085,0],[.115,.1],
[.145,.05],[.175,.25],[.205,.12],[.235,0],[.265,.15],[.295,.3],[.325,.1],[.355,.05],[.385,.2],[.415,.12],[.445,.35],[.475,.05],[.505,.2],
[.535,.3],[.565,.1],[.595,.4],[.625,.15],[.655,.25],[.685,.05],[.715,.2],[.745,.45],[-.05,.6],[.1,.45],[.25,.55],[.4,.62],[.55,.5],[.65,.45],
[-.3,.7],[-.15,.52],[0,.05],[.03,.08],[.06,.02],[-.02,.1],
[.855,.62],[.865,.55],[.875,.68],[.885,.6],[.895,.7],[.905,.65],[.915,.58],[.925,.7],[.935,.62],[.945,.55],[.955,.68],[.965,.6],[.875,.4],
[.895,.45],[.915,.38],[.935,.45],[.955,.5],[.885,.2],[.905,.1],[.925,.15],[.945,.25],[.965,.3],[.895,0],[.925,.05],[.945,-.02],[.905,.8],
[.925,.85],[.945,.8],[.885,.75],[.915,.3],[.935,.35],[.905,.52],[.925,.48],[.875,.15]];

const luadPoints = [[-.95,.15],[-.94,0],[-.93,-.15],[-.92,.35],[-.91,.38],[-.9,-.22],[-.9,.1],[-.89,.02],[-.88,.72],[-.88,-.08],[-.87,.4],
[-.87,.2],[-.86,.3],[-.86,0],[-.85,.55],[-.85,-.05],[-.84,.25],[-.84,.42],[-.83,.12],[-.83,-.3],[-.82,.35],[-.82,.6],[-.81,.05],[-.81,.2],
[-.8,.88],[-.8,.3],[-.8,-.12],[-.79,.42],[-.79,.1],[-.78,.22],[-.78,-.02],[-.77,.38],[-.77,.5],[-.76,.15],[-.76,-.15],[-.75,.28],[-.75,.05],
[-.74,.45],[-.74,.82],[-.73,.2],[-.73,-.08],[-.72,.32],[-.72,.7],[-.71,.1],[-.71,-.25],[-.7,.4],[-.7,.25],[-.69,0],[-.69,.6],[-.68,.18],
[-.67,.35],[-.67,-.1],[-.66,.05],[-.65,.28],[-.64,.45],[-.64,-.2],[-.63,.12],[-.62,.65],[-.61,0],[-.6,.3],[-.78,.32],[-.75,.4],[-.72,.15],
[-.59,.15],[-.58,.42],[-.57,.05],[-.56,-.12],[-.55,.25],[-.54,.72],[-.53,.02],[-.52,.35],[-.51,.1],[-.5,-.2],[-.49,.5],[-.48,.05],[-.47,.2],
[-.46,0],[-.45,.4],[-.44,-.08],[-.43,.12],[-.42,.55],[-.41,.02],[-.4,.28],[-.39,.08],[-.38,-.15],[-.37,.35],[-.36,.05],[-.35,.2],[-.34,.45],
[-.33,0],[-.32,.12],[-.31,.3],[-.3,.87],[-.29,.05],[-.28,-.1],[-.27,.22],[-.26,.4],[-.25,.02],[-.24,.15],[-.23,-.05],[-.22,.55],[-.21,.08],
[-.2,.3],[-.19,0],[-.18,.18],[-.17,-.12],[-.16,.45],[-.15,.05],[-.14,.62],[-.13,.22],[-.12,-.05],[-.11,.1],[-.1,.35],[-.09,-.15],[-.08,.02],
[-.07,.5],[-.06,.15],[-.05,-.25],[-.04,.28],[-.03,.05],[-.02,.72],[-.01,.12],[0,-.05],[.01,.38],[.02,.08],[.03,.22],[.04,.78],[.05,-.1],
[.06,.02],[.07,.45],[.08,.15],[.09,-.02],[.1,.3],[.11,.05],[.12,.62],[.13,-.12],[.14,.2],[.15,.02],[.16,.4],[.17,.1],[.18,-.2],[.19,.25],
[.2,.05],[.21,.5],[.22,-.05],[.23,.15],[.24,.35],[.25,.02],[.26,.6],[.27,.1],[.28,-.1],[.29,.28],[.3,.05],[.31,.45],[.32,0],[.33,.2],
[.34,-.15],[.35,.4],[.36,.08],[.37,.25],[.38,.02],[.39,.55],[.4,-.08],[.41,.15],[.42,.7],[.43,.05],[.44,.3],[.45,0],[.46,.18],[.47,.62],
[.48,.05],[.49,-.12],[.5,.35],[.51,.1],[.52,.02],[.53,.25],[.54,.55],[.55,-.05],[.56,.12],[.57,.4],[.58,.05],[.59,.2],[.6,-.1],[.61,.3],
[.62,.05],[.63,.65],[.64,.15],[.65,-.05],[.66,.25],[.67,-.25],[.68,.4],[.69,.08],[.7,.02],[.71,.5],[.72,.15],[.73,-.15],[.74,.3],[.75,.05],
[-.4,.02],[-.2,.06],[0,.04],[.2,.08],[.4,.06],[-.3,.1],[.1,.12],
[.76,.2],[.77,.55],[.78,-.02],[.79,.35],[.8,.1],[.8,.6],[.81,-.1],[.82,.3],[.82,.02],[.83,.45],[.83,.95],[.84,.2],[.84,-.05],[.85,.4],[.85,.12],
[.85,.95],[.86,.55],[.86,.28],[.86,-.2],[.87,.35],[.87,.05],[.87,.65],[.88,.45],[.88,.18],[.88,-.08],[.89,.3],[.89,.72],[.89,0],[.9,.5],[.9,.38],
[.9,.1],[.9,-.15],[.91,.6],[.91,.25],[.91,.02],[.92,.8],[.92,.42],[.92,.15],[.92,-.05],[.93,.55],[.93,.32],[.93,.08],[.93,.92],[.94,.45],[.94,.2],
[.94,.68],[.95,.38],[.95,.02],[.95,.75],[.96,.5],[.96,.28],[.96,.97],[.97,.6],[.97,.1],[.98,.9],[1,1],[.91,.42],[.93,.22],[.9,.3],[.95,.6]];
const luadDense = [[-.875,.3],[-.865,.12],[-.855,.35],[-.845,.05],[-.835,.28],[-.825,.4],[-.815,.15],[-.805,.3],[-.795,.02],[-.785,.35],
[-.775,.2],[-.765,.3],[-.755,.1],[-.745,.25],[-.735,.38],[-.725,.05],[-.715,.22],[-.705,.3],[-.695,.12],[-.685,.4],[-.675,.02],[-.665,.2],
[-.655,.35],[-.645,.08],[-.635,.3],[-.625,.18],[-.615,.4],[-.845,.45],[-.805,.42],[-.765,.42],[-.725,.45],[-.685,.28],[-.855,-.1],[-.815,-.05],
[-.775,-.12],[-.735,-.02],[-.695,-.15],[-.655,-.05],
[-.575,.02],[-.545,.1],[-.515,.2],[-.485,0],[-.455,.05],[-.425,.25],[-.395,.02],[-.365,.15],[-.335,.05],[-.305,0],[-.275,.1],[-.245,.05],
[-.215,.2],[-.185,.08],[-.155,0],[-.125,.12],[-.095,.05],[-.065,.02],[-.035,.15],[-.005,.05],[.025,0],[.055,.1],[.085,.05],[.115,.2],
[.145,.02],[.175,.08],[.205,0],[.235,.1],[.265,.02],[.295,.15],[.325,.05],[.355,.2],[.385,.08],[.415,0],[.445,.12],[.475,.05],[.505,.2],
[.535,0],[.565,.05],[.595,.1],[.625,0],[.655,.12],[.685,.05],[.715,.02],[.745,.1],[-.5,.3],[-.35,.35],[-.2,.4],[-.05,.42],[.1,.35],[.25,.3],
[.4,.4],[.55,.3],[.7,.35],[-.45,.15],[-.25,.28],[0,.2],[.3,.22],[.6,.2],[-.4,-.05],[-.1,-.08],[.2,-.1],[.5,-.05],
[.855,.3],[.865,.4],[.875,.2],[.885,.35],[.895,.45],[.905,.25],[.915,.4],[.925,.3],[.935,.45],[.945,.3],[.955,.4],[.965,.35],[.875,.05],
[.895,.15],[.915,.1],[.935,.02],[.955,.12],[.885,.55],[.905,.6],[.925,.5],[.945,.55],[.965,.45],[.905,-.05],[.925,-.02],[.945,.05],[.965,.2],
[.895,.7],[.925,.7],[.945,.82],[.915,.22],[.935,.38],[.885,.28],[.955,.25]];

const stadPoints = [[-.85,.95],[-.82,.93],[-.78,.94],[-.75,.91],[-.58,.95],[-.52,.93],[-.47,.97],[-.42,.95],[-.37,.94],[-.3,.92],[-.24,.97],
[-.18,.93],[-.12,.96],[-.08,.95],[-.02,.93],[.05,.95],[.1,.97],[.18,.96],[.22,.94],[.28,.96],[.33,.94],[.45,.97],[.48,.96],[.6,.95],[.64,.97],
[-.95,.25],[-.94,-.02],[-.93,.02],[-.92,.4],[-.91,.12],[-.9,-.1],[-.89,.3],[-.88,.5],[-.88,-.05],[-.87,.2],[-.86,.62],[-.86,.02],[-.85,.35],
[-.84,.15],[-.84,-.15],[-.83,.45],[-.82,.28],[-.82,.08],[-.81,.55],[-.8,.32],[-.8,-.08],[-.79,.22],[-.78,.4],[-.78,.78],[-.77,.3],[-.77,.1],
[-.76,.35],[-.76,-.2],[-.75,.25],[-.75,.5],[-.74,.18],[-.74,.38],[-.73,.3],[-.73,.72],[-.72,.02],[-.72,.28],[-.71,.42],[-.7,.2],[-.7,-.1],
[-.69,.35],[-.68,.6],[-.68,.12],[-.67,.25],[-.66,.45],[-.65,0],[-.65,.78],[-.64,.3],[-.63,.15],[-.62,.5],[-.61,-.05],[-.6,.35],[-.78,.32],
[-.74,.26],[-.71,.33],
[-.59,.2],[-.58,.65],[-.57,.05],[-.56,.42],[-.55,-.15],[-.54,.28],[-.53,.55],[-.52,.1],[-.51,.38],[-.5,-.22],[-.49,.48],[-.48,.15],[-.47,.72],
[-.46,.02],[-.45,.3],[-.44,.55],[-.43,-.1],[-.42,.22],[-.41,.42],[-.4,.08],[-.39,.65],[-.38,-.2],[-.37,.3],[-.36,.12],[-.35,.5],[-.34,.78],
[-.33,.02],[-.32,.25],[-.31,-.12],[-.3,.4],[-.29,.15],[-.28,.6],[-.27,.05],[-.26,.3],[-.25,-.08],[-.24,.45],[-.23,.2],[-.22,.68],[-.21,0],
[-.2,.35],[-.19,.12],[-.18,-.25],[-.17,.5],[-.16,.22],[-.15,.05],[-.14,.4],[-.13,.75],[-.12,.1],[-.11,-.1],[-.1,.28],[-.09,.55],[-.08,.02],
[-.07,.18],[-.06,.38],[-.05,-.05],[-.04,.12],[-.03,.62],[-.02,.08],[-.01,.25],[0,.05],[.01,-.08],[.02,.15],[.03,.45],[.04,.02],[.05,.1],
[.06,.3],[.07,-.02],[.08,.08],[.09,.52],[.1,.15],[.11,-.12],[.12,.05],[.13,.35],[.14,.7],[.15,0],[.16,.2],[.17,-.15],[.18,.42],[.19,.1],
[.2,.6],[.21,.02],[.22,.3],[.23,-.05],[.24,.15],[.25,.48],[.26,.8],[.27,.05],[.28,.25],[.29,-.1],[.3,.38],[.31,.12],[.32,.55],[.33,-.2],
[.34,.02],[.35,.3],[.36,.7],[.37,.1],[.38,.45],[.39,-.08],[.4,.2],[.41,.6],[.42,.05],[.43,-.22],[.44,.35],[.45,.12],[.46,.5],[.47,-.1],
[.48,.25],[.49,0],[.5,.4],[.51,.15],[.52,-.05],[.53,.3],[.54,-.18],[.55,.1],[.56,.45],[.57,.2],[.58,-.12],[.59,.35],[.6,.05],[.61,.55],
[.62,-.25],[.63,.15],[.64,-.32],[.65,.4],[.66,0],[.67,.25],[.68,-.1],[.69,.5],[.7,.1],[.71,-.15],[.72,.3],[.73,.62],[.74,.02],[.75,.2],
[.02,.06],[.05,.04],[.08,.12],[-.02,0],[.11,.08],
[.76,.45],[.77,-.05],[.78,.8],[.79,.12],[.8,.35],[.8,-.15],[.81,.55],[.82,.2],[.82,.7],[.83,.05],[.83,.4],[.84,.25],[.84,.85],[.85,.6],[.85,-.08],
[.86,.35],[.86,.12],[.86,.72],[.87,.48],[.87,.2],[.87,-.02],[.88,.65],[.88,.3],[.88,.05],[.89,.8],[.89,.4],[.89,.15],[.89,-.1],[.9,.55],[.9,.25],
[.9,.7],[.9,0],[.91,.45],[.91,.32],[.91,.1],[.91,.88],[.92,.6],[.92,.38],[.92,.2],[.92,-.05],[.93,.75],[.93,.5],[.93,.28],[.93,.05],[.94,.65],
[.94,.42],[.94,.15],[.95,.55],[.95,.3],[.95,.82],[.96,.45],[.96,.2],[.96,.95],[.97,.7],[.97,.35],[.98,.92],[1,1],[.92,.52],[.9,.4],[.94,.3],
[.95,.1]];
const stadDense = [[-.875,.3],[-.865,.18],[-.855,.4],[-.845,.25],[-.835,.35],[-.825,.15],[-.815,.3],[-.805,.4],[-.795,.2],[-.785,.32],
[-.775,.38],[-.765,.25],[-.755,.3],[-.745,.2],[-.735,.35],[-.725,.4],[-.715,.25],[-.705,.3],[-.695,.15],[-.685,.35],[-.675,.2],[-.665,.28],
[-.655,.4],[-.645,.12],[-.635,.3],[-.625,.2],[-.615,.42],[-.845,.05],[-.805,.1],[-.765,.05],[-.725,.12],[-.685,.02],[-.645,.05],[-.865,.55],
[-.825,.5],[-.785,.55],[-.745,.5],[-.705,.55],[-.665,.5],[-.825,-.05],[-.785,-.12],[-.745,-.08],
[-.575,.3],[-.545,.15],[-.515,.45],[-.485,.25],[-.455,.1],[-.425,.35],[-.395,.2],[-.365,.5],[-.335,.12],[-.305,.3],[-.275,.2],[-.245,.05],
[-.215,.25],[-.185,.4],[-.155,.15],[-.125,.25],[-.095,.05],[-.065,.1],[-.035,.2],[-.005,.1],[.015,.02],[.035,.08],[.055,0],[.075,.12],
[.095,.05],[.115,.02],[.135,.1],[.155,.2],[.175,.05],[.195,.3],[.215,.15],[.235,.05],[.255,.22],[.275,.1],[.295,.35],[.315,0],[.335,.15],
[.355,.42],[.375,.05],[.395,.25],[.415,.1],[.435,.3],[.455,.02],[.475,.2],[.495,-.05],[.515,.1],[.535,0],[.555,.25],[.575,.08],[.595,.15],
[.615,.3],[.635,.02],[.655,.2],[.675,.1],[.695,.3],[.715,.05],[.735,.4],[-.45,.6],[-.3,.55],[-.15,.62],[0,.5],[.15,.55],[.3,.65],[.45,.5],
[.6,.45],[-.02,.04],[.045,.06],[.085,.02],[.025,.12],[.065,.15],
[.855,.5],[.865,.6],[.875,.42],[.885,.55],[.895,.35],[.905,.62],[.915,.5],[.925,.4],[.935,.6],[.945,.5],[.955,.35],[.965,.55],[.875,.25],
[.895,.2],[.915,.25],[.935,.18],[.955,.22],[.885,0],[.905,.08],[.925,.12],[.945,.02],[.965,.1],[.895,.75],[.915,.7],[.935,.8],[.955,.7],
[.965,.3],[.905,-.08],[.925,0],[.945,.4],[.915,.4],[.935,.38],[.885,.1]];

const escPoints = [[-.95,-.12],[-.94,-.02],[-.94,.02],[-.93,.3],[-.92,.05],[-.91,.75],[-.9,.35],[-.9,-.08],[-.89,.2],[-.89,.78],[-.88,.45],
[-.88,-.15],[-.87,.25],[-.87,.88],[-.86,.1],[-.86,.55],[-.85,.32],[-.85,-.2],[-.84,.42],[-.84,.02],[-.83,.15],[-.83,.65],[-.82,.38],[-.82,-.1],
[-.81,.28],[-.81,.9],[-.8,.5],[-.8,.08],[-.79,.35],[-.79,-.22],[-.78,.2],[-.78,.93],[-.77,.45],[-.77,0],[-.76,.3],[-.76,.62],[-.75,.12],
[-.75,.4],[-.74,-.05],[-.74,.85],[-.73,.25],[-.73,.5],[-.72,.35],[-.72,.05],[-.71,.2],[-.71,.75],[-.7,.42],[-.7,-.12],[-.69,.15],[-.68,.32],
[-.68,.88],[-.67,0],[-.66,.45],[-.66,.22],[-.65,.82],[-.64,.1],[-.63,.38],[-.62,-.15],[-.61,.28],[-.6,.6],[-.8,.3],[-.76,.36],[-.73,.18],
[-.59,.05],[-.58,.35],[-.57,.75],[-.56,.15],[-.55,-.1],[-.54,.45],[-.53,.22],[-.52,.58],[-.51,.02],[-.5,.3],[-.49,-.08],[-.48,.7],[-.47,.12],
[-.46,.4],[-.45,-.02],[-.44,.25],[-.43,.55],[-.42,.08],[-.41,-.15],[-.4,.35],[-.39,.78],[-.38,.15],[-.37,.45],[-.36,-.05],[-.35,.22],[-.34,.62],
[-.33,.05],[-.32,.3],[-.31,-.2],[-.3,.48],[-.29,.12],[-.28,.38],[-.27,-.08],[-.26,.2],[-.25,.55],[-.24,.02],[-.23,.68],[-.22,.28],[-.21,-.12],
[-.2,.4],[-.19,.1],[-.18,.6],[-.17,-.05],[-.16,.25],[-.15,.45],[-.14,.05],[-.13,.78],[-.12,-.2],[-.11,.3],[-.1,.12],[-.09,.52],[-.08,-.05],
[-.07,.2],[-.06,.85],[-.05,.02],[-.04,.35],[-.03,-.15],[-.02,.1],[-.01,.45],[0,.05],[.01,-.08],[.02,.22],[.03,.02],[.04,.62],[.05,.15],
[.06,-.12],[.07,.05],[.08,.38],[.09,.9],[.1,.1],[.11,-.2],[.12,.28],[.13,.02],[.14,.5],[.15,.15],[.16,-.05],[.17,.35],[.18,.08],[.19,.72],
[.2,-.15],[.21,.25],[.22,.05],[.23,.45],[.24,-.22],[.25,.15],[.26,.58],[.27,.02],[.28,.3],[.29,.9],[.3,-.1],[.31,.2],[.32,.48],[.33,.05],
[.34,.3],[.35,-.18],[.36,.12],[.37,.5],[.38,.02],[.39,.25],[.4,-.08],[.41,.4],[.42,.15],[.43,.6],[.44,-.02],[.45,.3],[.46,.1],[.47,.52],
[.48,-.12],[.49,.2],[.5,.42],[.51,.05],[.52,.3],[.53,-.2],[.54,.55],[.55,.18],[.56,.02],[.57,.38],[.58,-.25],[.59,.15],[.6,.45],[.61,.08],
[.62,.28],[.63,-.1],[.64,.2],[.65,.05],[.66,.5],[.67,.3],[.68,-.05],[.69,.15],[.7,.42],[.71,.82],[.72,.02],[.73,.25],[.74,-.15],[.75,.55],
[.76,.1],[.77,.35],[.78,-.2],[.79,.6],[.8,.2],[.8,-.05],[.81,.45],[.82,.75],[.82,.08],[.83,.3],[.83,-.25],[.84,.5],[.84,.15],[.85,.65],[.85,.02],
[.86,.38],[.86,.22],[.86,.8],[.87,.55],[.87,-.12],[.88,.42],[.88,.1],[.88,.7],[.89,.3],[.89,.5],[.89,-.05],[.9,.6],[.9,.25],[.9,.05],[.9,.85],
[.91,.45],[.91,.35],[.91,-.18],[.92,.72],[.92,.2],[.92,.55],[.92,0],[.93,.4],[.93,.3],[.93,.88],[.93,-.25],[.94,.62],[.94,.15],[.94,.48],
[.95,.78],[.95,.28],[.95,.05],[.96,.38],[.96,.95],[.96,.18],[.97,.7],[.97,.98],[.98,1],[1,1],[.91,.12],[.93,.5],[.95,.35],[.9,.4]];
const escDense = [[-.875,.3],[-.865,.2],[-.855,.4],[-.845,.25],[-.835,.35],[-.825,.1],[-.815,.3],[-.805,.2],[-.795,.42],[-.785,.3],
[-.775,.15],[-.765,.35],[-.755,.25],[-.745,.42],[-.735,.3],[-.725,.1],[-.715,.38],[-.705,.25],[-.695,.3],[-.685,.15],[-.675,.4],[-.665,.05],
[-.655,.3],[-.645,.2],[-.635,.48],[-.625,.02],[-.855,-.05],[-.835,-.12],[-.815,0],[-.795,-.08],[-.775,-.15],[-.755,-.02],[-.735,-.1],
[-.715,0],[-.695,-.05],[-.845,.55],[-.805,.62],[-.765,.52],[-.725,.6],
[-.575,.2],[-.545,.3],[-.515,.1],[-.485,.35],[-.455,.2],[-.425,0],[-.395,.25],[-.365,.1],[-.335,.4],[-.305,.15],[-.275,.05],[-.245,.3],
[-.215,.12],[-.185,0],[-.155,.2],[-.125,.05],[-.095,.3],[-.065,.1],[-.035,0],[-.005,.15],[.025,.05],[.055,-.05],[.085,.1],[.115,.02],
[.145,.2],[.175,-.1],[.205,.05],[.235,.12],[.265,-.05],[.295,.2],[.325,.1],[.355,.3],[.385,-.02],[.415,.15],[.445,.35],[.475,.05],[.505,.2],
[.535,.1],[.565,.3],[.595,0],[.625,.15],[.655,.35],[.685,.05],[.715,.2],[.745,.3],[-.5,.5],[-.35,.55],[-.2,.5],[.2,.4],[.35,.5],[-.05,.25],
[.05,.3],
[.855,.3],[.865,.15],[.875,.4],[.885,.25],[.895,.38],[.905,.15],[.915,.3],[.925,.42],[.935,.2],[.945,.35],[.955,.25],[.965,.4],[.875,.55],
[.895,.6],[.915,.55],[.935,.65],[.955,.6],[.885,.05],[.905,-.05],[.925,.08],[.945,-.1],[.965,.1],[.895,.75],[.925,.78],[.945,.72],[.905,-.15],
[.935,-.18],[.955,-.2],[.915,.2],[.935,.28],[.905,.45],[.925,.5]];

const panelPoints = [blcaPoints.concat(blcaDense), brcaPoints.concat(brcaDense), coadPoints.concat(coadDense),
                     readPoints.concat(readDense), eacPoints.concat(eacDense), gbmlggPoints.concat(gbmlggDense),
                     hnscPoints.concat(hnscDense), luadPoints.concat(luadDense), stadPoints.concat(stadDense),
                     escPoints.concat(escDense)];

// layout: top-left corner of each plotting box
const panelBoxes = [[83, 50], [585, 55], [1086, 58], [1590, 58],
                    [79, 522], [581, 528], [1084, 530], [1595, 532],
                    [87, 994], [585, 999]];
const boxW = 372, boxH = 311;
const lim = [-1.08, 1.08];

const svg = d3.select("#chart");

tumourNames.forEach((name, i) => {
  const [left, top] = panelBoxes[i];
  const x = d3.scaleLinear().domain(lim).range([left, left + boxW]);
  const y = d3.scaleLinear().domain(lim).range([top + boxH, top]);
  const g = svg.append("g");

  svg.append("clipPath").attr("id", "clip" + i)
    .append("rect").attr("x", left).attr("y", top).attr("width", boxW).attr("height", boxH);

  // points
  g.append("g").selectAll("circle")
    .data(panelPoints[i])
    .join("circle")
    .attr("class", "dot")
    .attr("cx", d => x(d[0]))
    .attr("cy", d => y(d[1]))
    .attr("r", 2.9);

  // reference lines
  const lines = g.append("g").attr("clip-path", `url(#clip${i})`);
  lines.append("line")
    .attr("x1", x(diagStart)).attr("y1", y(diagStart))
    .attr("x2", x(1)).attr("y2", y(1))
    .attr("stroke", "#000").attr("stroke-width", 1).attr("stroke-dasharray", "4,3.5");
  [thresholdOffset, -thresholdOffset].forEach(off => {
    lines.append("line")
      .attr("x1", x(lim[0])).attr("y1", y(lim[0] + off))
      .attr("x2", x(lim[1])).attr("y2", y(lim[1] + off))
      .attr("stroke", "#ff0000").attr("stroke-width", 1).attr("stroke-dasharray", "4,3.5");
  });

  // frame
  g.append("rect").attr("class", "frame")
    .attr("x", left).attr("y", top).attr("width", boxW).attr("height", boxH);

  // x axis
  const xAxis = g.append("g").attr("class", "axis")
    .attr("transform", `translate(0,${top + boxH})`)
    .call(d3.axisBottom(x).tickValues(tickValues).tickSize(10).tickSizeOuter(0)
      .tickFormat((d, k) => tickLabels[k]));
  xAxis.select(".domain").remove();
  xAxis.selectAll("text").attr("y", 35).attr("dy", 0);

  // y axis, labels parallel to the axis
  const yAxis = g.append("g").attr("class", "axis")
    .attr("transform", `translate(${left},0)`)
    .call(d3.axisLeft(y).tickValues(tickValues).tickSize(10).tickSizeOuter(0)
      .tickFormat((d, k) => tickLabels[k]));
  yAxis.select(".domain").remove();
  yAxis.selectAll("text")
    .attr("transform", "rotate(-90)")
    .attr("x", 0).attr("y", -21).attr("dy", 0)
    .attr("text-anchor", "middle");

  // titles
  g.append("text").attr("class", "panel-title")
    .attr("x", left + boxW / 2).attr("y", top - 33)
    .text("Villi vs " + name);
  g.append("text").attr("class", "axis-title")
    .attr("x", left + boxW / 2).attr("y", top + boxH + 74)
    .text("correlation in villi");
  g.append("text").attr("class", "axis-title")
    .attr("transform", `translate(${left - 60},${top + boxH / 2}) rotate(-90)`)
    .text("correlation in " + name);
});
</script>
</body>
</html>
